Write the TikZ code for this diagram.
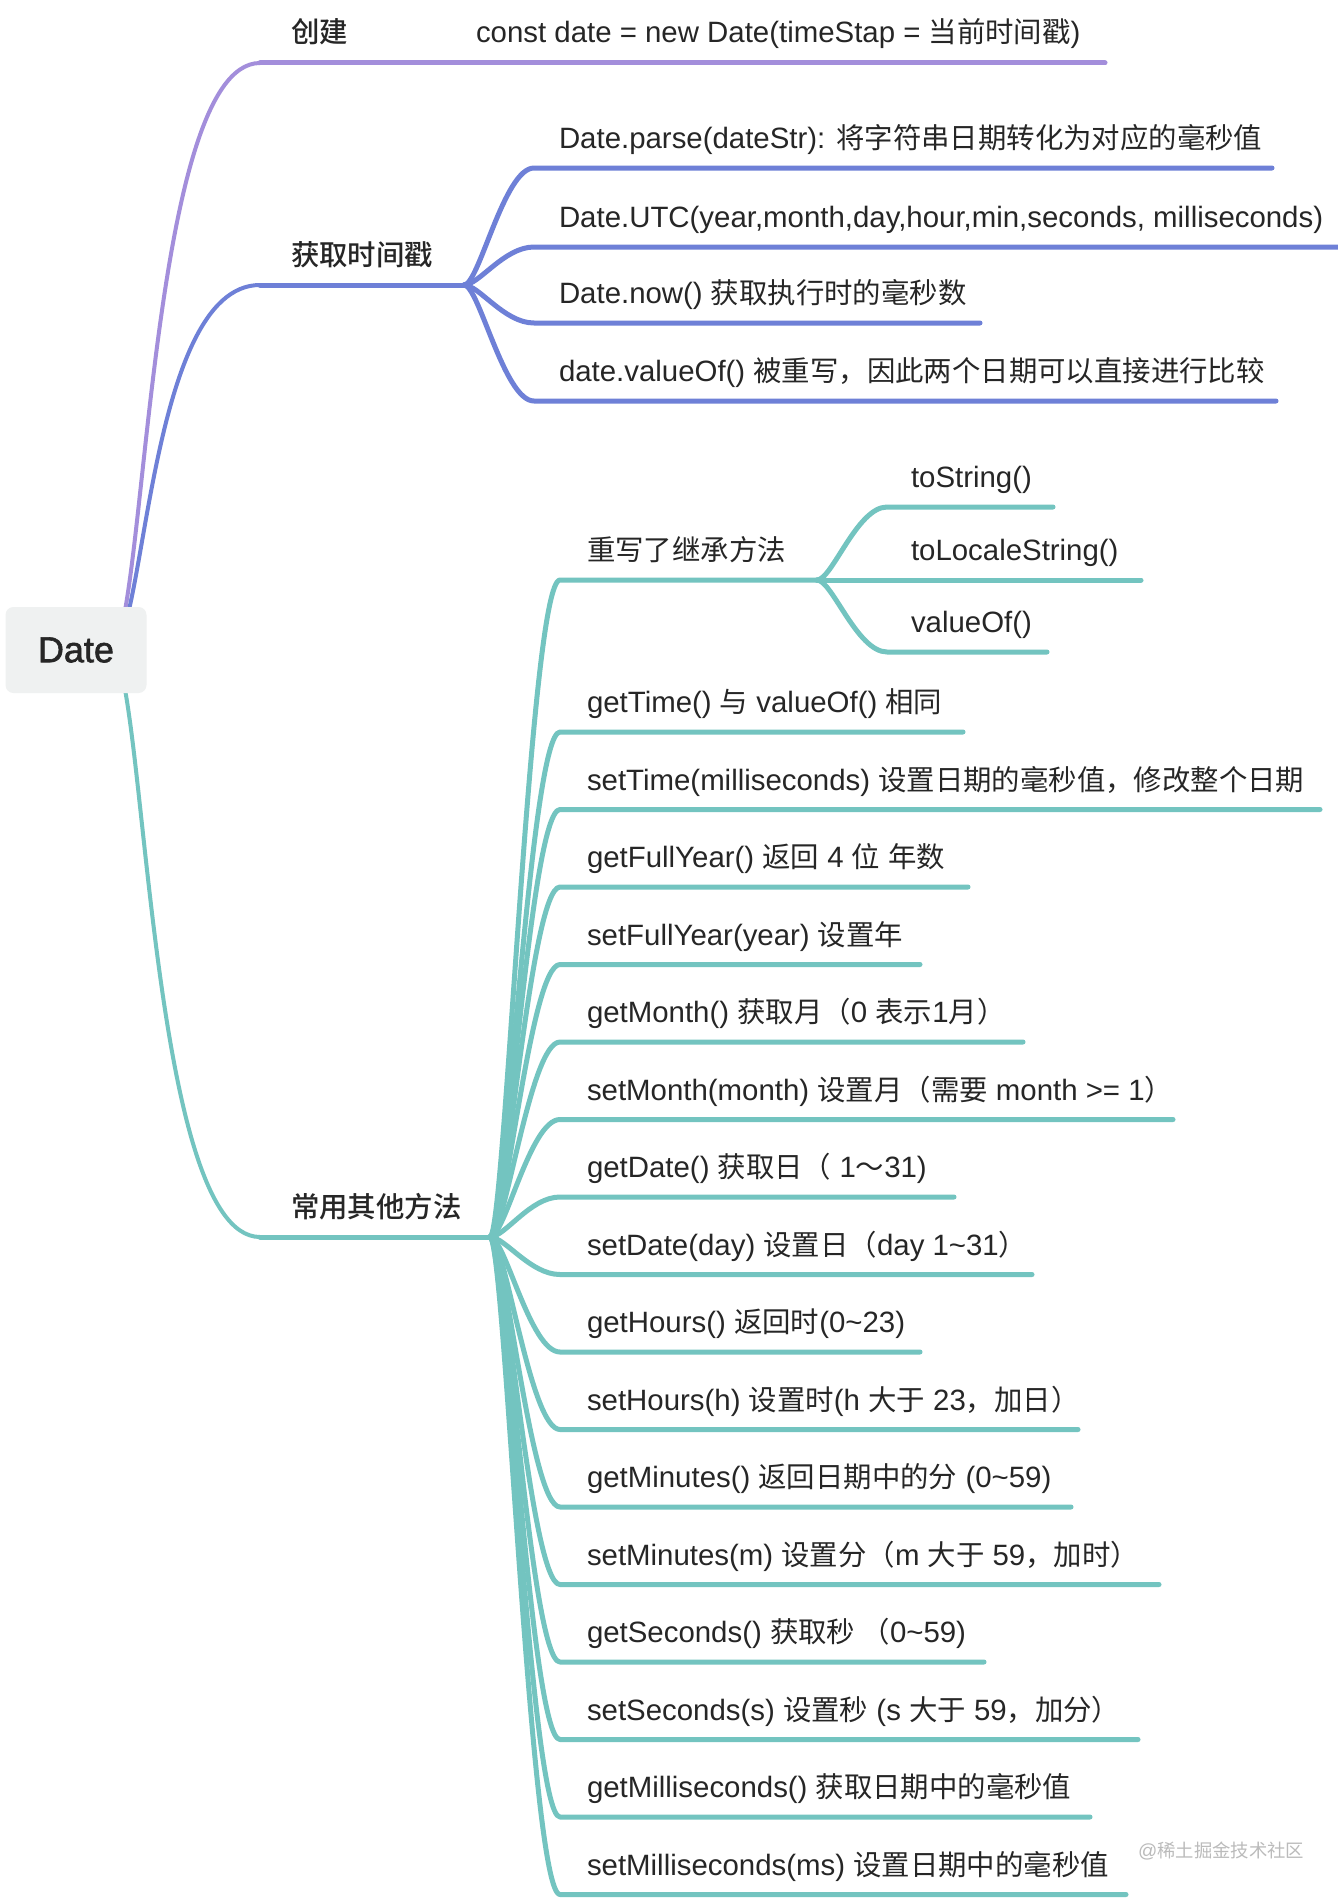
\documentclass[tikz,border=0pt]{standalone}
\usepackage{fontspec}
\setmainfont{Liberation Sans}
\newfontfamily\cjk[Scale=0.966]{Noto Sans CJK SC}
\newfontfamily\cjkmed[Scale=0.966]{Noto Sans CJK SC Medium}
\newfontfamily\rootfont[FakeBold=1.6]{Liberation Sans}
\usetikzlibrary{calc}
\definecolor{cpur}{HTML}{A38EDB}
\definecolor{cblu}{HTML}{6E80D7}
\definecolor{ctea}{HTML}{73C4C0}
\definecolor{cbox}{HTML}{EFF1F1}
\definecolor{ctxt}{HTML}{262626}
\definecolor{cwm}{HTML}{BBBBBB}
\tikzset{
  lbl/.style={anchor=base west, inner sep=0pt, outer sep=0pt, text=ctxt, font=\fontsize{29.4}{34}\selectfont},
  brline/.style={line width=5pt, line cap=round, line join=round},
  rootline/.style={line width=4pt, line cap=round},
  rootbox/.style={fill=cbox, rounded corners=8pt, minimum width=141pt, minimum height=86pt, inner sep=0pt, text=ctxt, font=\rootfont\fontsize{36}{40}\selectfont},
  wmark/.style={anchor=base west, inner sep=0pt, text=cwm, font=\fontsize{19}{22}\selectfont}
}
\newcommand\mmkid[3]{\draw[#1] (#2) .. controls ($(#2)+(15,0)$) and ($(#2|-#3)+(40,0)$) .. ($(#2|-#3)+(70,0)$) -- (#3);}
\begin{document}
\begin{tikzpicture}[x=1pt,y=-1pt]
\useasboundingbox (0,0) rectangle (1338,1900);
\fill[white] (0,0) rectangle (1338,1900);

% ---------- coordinates ----------
\coordinate (rootc) at (110,650);
\coordinate (h1) at (260,63);   \coordinate (e1) at (1105,63);
\coordinate (h2) at (260,285);  \coordinate (j1) at (464,285);
\coordinate (h3) at (260,1237); \coordinate (j3) at (490,1237);
\coordinate (j2) at (817,580);

% ---------- root branches ----------
\draw[rootline,cpur] (rootc) .. controls ($(rootc)+(36,0)$) and ($(rootc|-h1)+(36,0)$) .. (h1);
\draw[brline,cpur] (h1) -- (e1);
\draw[rootline,cblu] (rootc) .. controls ($(rootc)+(36,0)$) and ($(rootc|-h2)+(36,0)$) .. (h2);
\draw[brline,cblu] (h2) -- (j1);
\draw[rootline,ctea] (rootc) .. controls ($(rootc)+(36,0)$) and ($(rootc|-h3)+(36,0)$) .. (h3);
\draw[brline,ctea] (h3) -- (j3);

% ---------- blue children ----------
\coordinate (b1) at (1272,168);
\coordinate (b2) at (1338,247);
\coordinate (b3) at (980,323);
\coordinate (b4) at (1276,401);
\foreach \e in {b1,b2,b3,b4}{\mmkid{brline,cblu}{j1}{\e}}

% ---------- teal children ----------
\coordinate (t1) at (963,732);
\coordinate (t2) at (1320,809.5);
\coordinate (t3) at (968,887);
\coordinate (t4) at (920,964.5);
\coordinate (t5) at (1023,1042);
\coordinate (t6) at (1173,1119.5);
\coordinate (t7) at (954,1197);
\coordinate (t8) at (1032,1274.5);
\coordinate (t9) at (920,1352);
\coordinate (t10) at (1078,1429.5);
\coordinate (t11) at (1071,1507);
\coordinate (t12) at (1159,1584.5);
\coordinate (t13) at (984,1662);
\coordinate (t14) at (1138,1739.5);
\coordinate (t15) at (1090,1817);
\coordinate (t16) at (1126,1894.5);
\mmkid{brline,ctea}{j3}{j2}
\foreach \e in {t1,t2,t3,t4,t5,t6,t7,t8,t9,t10,t11,t12,t13,t14,t15,t16}{\mmkid{brline,ctea}{j3}{\e}}

% ---------- grandchildren of 重写了继承方法 ----------
\coordinate (r1) at (1053,507);
\coordinate (r2) at (1141,580);
\coordinate (r3) at (1047,652);
\mmkid{brline,ctea}{j2}{r1}
\draw[brline,ctea] (j2) -- (r2);
\mmkid{brline,ctea}{j2}{r3}

% ---------- root node ----------
\node[rootbox] (root) at (76,650) {Date};

% ---------- labels ----------
\node[lbl] (l1) at (291,43) {\cjkmed 创建};
\node[lbl] (l1a) at (476,43) {const date = new Date(timeStap = {\cjk 当前时间戳})};
\node[lbl] (l2) at (291,265) {\cjkmed 获取时间戳};
\node[lbl] (l3) at (291,1217) {\cjkmed 常用其他方法};

\node[lbl] (lb1) at (559,148) {Date.parse(dateStr): {\cjk 将字符串日期转化为对应的毫秒值}};
\node[lbl] (lb2) at (559,227) {Date.UTC(year,month,day,hour,min,seconds, milliseconds)};
\node[lbl] (lb3) at (559,303) {Date.now() {\cjk 获取执行时的毫秒数}};
\node[lbl] (lb4) at (559,381) {date.valueOf() {\cjk 被重写，因此两个日期可以直接进行比较}};

\node[lbl] (lt0) at (587,560.5) {\cjk 重写了继承方法};
\node[lbl] (lr1) at (911,487.5) {toString()};
\node[lbl] (lr2) at (911,560.5) {toLocaleString()};
\node[lbl] (lr3) at (911,632.5) {valueOf()};

\node[lbl] (lt1) at (587,712.5) {getTime() {\cjk 与} valueOf() {\cjk 相同}};
\node[lbl] (lt2) at (587,790) {setTime(milliseconds) {\cjk 设置日期的毫秒值，修改整个日期}};
\node[lbl] (lt3) at (587,867.5) {getFullYear() {\cjk 返回} 4 {\cjk 位} {\cjk 年数}};
\node[lbl] (lt4) at (587,945) {setFullYear(year) {\cjk 设置年}};
\node[lbl] (lt5) at (587,1022.5) {getMonth() {\cjk 获取月（}0 {\cjk 表示}1{\cjk 月）}};
\node[lbl] (lt6) at (587,1100) {setMonth(month) {\cjk 设置月（需要} month >= 1{\cjk ）}};
\node[lbl] (lt7) at (587,1177.5) {getDate() {\cjk 获取日（} 1{\cjk ～}31)};
\node[lbl] (lt8) at (587,1255) {setDate(day) {\cjk 设置日（}day 1\char"7E 31{\cjk ）}};
\node[lbl] (lt9) at (587,1332.5) {getHours() {\cjk 返回时}(0\char"7E 23)};
\node[lbl] (lt10) at (587,1410) {setHours(h) {\cjk 设置时}(h {\cjk 大于} 23{\cjk ，加日）}};
\node[lbl] (lt11) at (587,1487.5) {getMinutes() {\cjk 返回日期中的分} (0\char"7E 59)};
\node[lbl] (lt12) at (587,1565) {setMinutes(m) {\cjk 设置分（}m {\cjk 大于} 59{\cjk ，加时）}};
\node[lbl] (lt13) at (587,1642.5) {getSeconds() {\cjk 获取秒 （}0\char"7E 59)};
\node[lbl] (lt14) at (587,1720) {setSeconds(s) {\cjk 设置秒} (s {\cjk 大于} 59{\cjk ，加分）}};
\node[lbl] (lt15) at (587,1797.5) {getMilliseconds() {\cjk 获取日期中的毫秒值}};
\node[lbl] (lt16) at (587,1875) {setMilliseconds(ms) {\cjk 设置日期中的毫秒值}};

\node[wmark] (wm) at (1138,1857) {@{\cjk 稀土掘金技术社区}};
\end{tikzpicture}
\end{document}
